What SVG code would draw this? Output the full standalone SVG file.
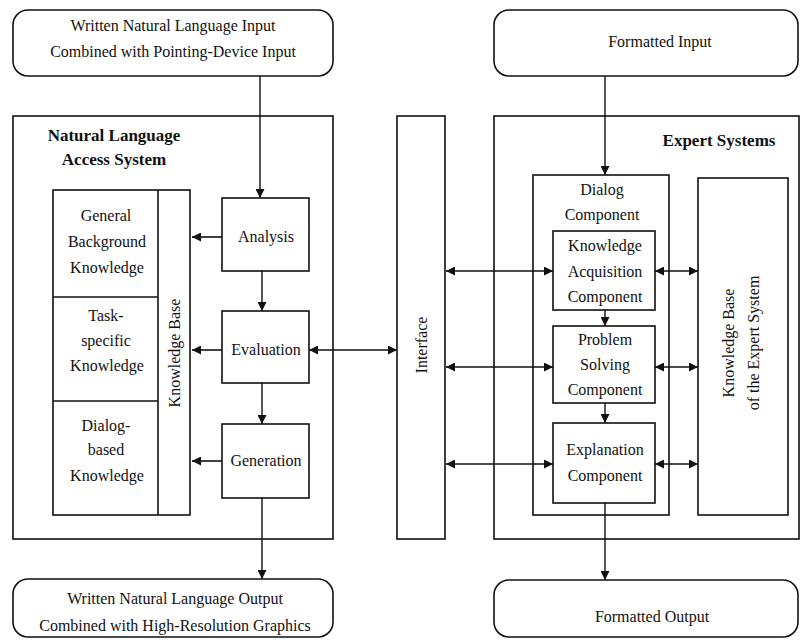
<svg xmlns="http://www.w3.org/2000/svg" width="801" height="641" viewBox="0 0 801 641">
<style>
.b{fill:none;stroke:#111;stroke-width:1.6}
.c{fill:none;stroke:#111;stroke-width:1.4}
text{font-family:"Liberation Serif","Times New Roman",serif;font-size:16px;fill:#111;text-anchor:middle}
.t{font-weight:bold;font-size:17px}
</style>
<defs>
<marker id="a" viewBox="0 0 10 10" refX="10" refY="5" markerUnits="userSpaceOnUse" markerWidth="10" markerHeight="9" orient="auto-start-reverse">
<path d="M0,0 L10,5 L0,10 z" fill="#111"/>
</marker>
</defs>
<rect width="801" height="641" fill="#fff"/>

<g id="nl-input">
<rect class="b" x="13" y="10" width="320" height="66" rx="15"/>
<text x="173" y="31">Written Natural Language Input</text>
<text x="173" y="57">Combined with Pointing-Device Input</text>
</g>
<g id="formatted-input">
<rect class="b" x="494" y="10" width="304" height="66" rx="15"/>
<text x="660" y="47">Formatted Input</text>
</g>

<g id="nlas">
<rect class="b" x="13" y="116" width="320" height="423"/>
<text class="t" x="114" y="141">Natural Language</text>
<text class="t" x="114" y="165">Access System</text>
</g>
<g id="knowledge-base">
<rect class="b" x="53" y="190" width="137" height="325"/>
<line class="b" x1="158" y1="190" x2="158" y2="515"/>
<line class="b" x1="53" y1="297" x2="158" y2="297"/>
<line class="b" x1="53" y1="401" x2="158" y2="401"/>
<text x="106" y="221">General</text>
<text x="107" y="247">Background</text>
<text x="107" y="273">Knowledge</text>
<text x="106" y="321">Task-</text>
<text x="106" y="346">specific</text>
<text x="107" y="371">Knowledge</text>
<text x="106" y="431">Dialog-</text>
<text x="106" y="455">based</text>
<text x="107" y="481">Knowledge</text>
<text transform="translate(180,353) rotate(-90)">Knowledge Base</text>
</g>
<g id="analysis">
<rect class="b" x="222" y="198" width="87" height="73"/>
<text x="266" y="242">Analysis</text>
</g>
<g id="evaluation">
<rect class="b" x="222" y="311" width="87" height="72"/>
<text x="266" y="355">Evaluation</text>
</g>
<g id="generation">
<rect class="b" x="222" y="424" width="87" height="74"/>
<text x="266" y="466">Generation</text>
</g>

<g id="interface">
<rect class="b" x="397" y="116" width="48" height="423"/>
<text transform="translate(427,345) rotate(-90)">Interface</text>
</g>

<g id="expert-systems">
<rect class="b" x="494" y="116" width="305" height="423"/>
<text class="t" x="719" y="146">Expert Systems</text>
</g>
<g id="dialog-component">
<rect class="b" x="533" y="175" width="136" height="340"/>
<text x="602" y="195">Dialog</text>
<text x="602" y="220">Component</text>
</g>
<g id="knowledge-acquisition">
<rect class="b" x="553" y="231" width="102" height="79"/>
<text x="605" y="251">Knowledge</text>
<text x="605" y="277">Acquisition</text>
<text x="605" y="302">Component</text>
</g>
<g id="problem-solving">
<rect class="b" x="553" y="326" width="102" height="77"/>
<text x="605" y="345">Problem</text>
<text x="605" y="370">Solving</text>
<text x="605" y="395">Component</text>
</g>
<g id="explanation">
<rect class="b" x="553" y="423" width="102" height="80"/>
<text x="605" y="455">Explanation</text>
<text x="605" y="481">Component</text>
</g>
<g id="kb-expert">
<rect class="b" x="698" y="178" width="90" height="337"/>
<text transform="translate(734,343) rotate(-90)">Knowledge Base</text>
<text transform="translate(759,343) rotate(-90)">of the Expert System</text>
</g>

<g id="nl-output">
<rect class="b" x="13" y="579" width="320" height="58" rx="15"/>
<text x="175" y="604">Written Natural Language Output</text>
<text x="175" y="631">Combined with High-Resolution Graphics</text>
</g>
<g id="formatted-output">
<rect class="b" x="494" y="580" width="304" height="57" rx="15"/>
<text x="652" y="622">Formatted Output</text>
</g>

<g id="connectors">
<line class="c" x1="260" y1="76" x2="260" y2="198" marker-end="url(#a)"/>
<line class="c" x1="262" y1="271" x2="262" y2="311" marker-end="url(#a)"/>
<line class="c" x1="262" y1="383" x2="262" y2="424" marker-end="url(#a)"/>
<line class="c" x1="262" y1="498" x2="262" y2="579" marker-end="url(#a)"/>
<line class="b" x1="222" y1="237" x2="192" y2="237" marker-end="url(#a)"/>
<line class="b" x1="222" y1="350" x2="192" y2="350" marker-end="url(#a)"/>
<line class="b" x1="222" y1="461" x2="192" y2="461" marker-end="url(#a)"/>
<line class="b" x1="309" y1="350" x2="397" y2="350" marker-start="url(#a)" marker-end="url(#a)"/>
<line class="c" x1="605" y1="76" x2="605" y2="175" marker-end="url(#a)"/>
<line class="c" x1="605" y1="310" x2="605" y2="326" marker-end="url(#a)"/>
<line class="c" x1="605" y1="403" x2="605" y2="423" marker-end="url(#a)"/>
<line class="c" x1="605" y1="503" x2="605" y2="580" marker-end="url(#a)"/>
<line class="b" x1="446" y1="271" x2="553" y2="271" marker-start="url(#a)" marker-end="url(#a)"/>
<line class="b" x1="446" y1="367" x2="553" y2="367" marker-start="url(#a)" marker-end="url(#a)"/>
<line class="b" x1="446" y1="464" x2="553" y2="464" marker-start="url(#a)" marker-end="url(#a)"/>
<line class="b" x1="655" y1="271" x2="698" y2="271" marker-start="url(#a)" marker-end="url(#a)"/>
<line class="b" x1="655" y1="367" x2="698" y2="367" marker-start="url(#a)" marker-end="url(#a)"/>
<line class="b" x1="655" y1="464" x2="698" y2="464" marker-start="url(#a)" marker-end="url(#a)"/>
</g>
</svg>
